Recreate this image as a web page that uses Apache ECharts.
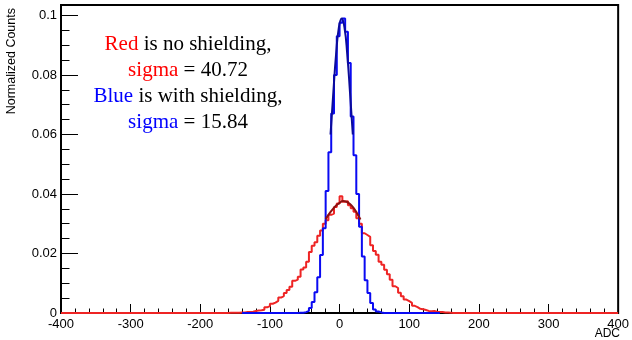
<!DOCTYPE html>
<html>
<head>
<meta charset="utf-8">
<script src="https://cdn.jsdelivr.net/npm/echarts@6/dist/echarts.min.js"></script>
<style>
  html, body { margin: 0; padding: 0; background: #fff; }
  #chart { width: 632px; height: 340px; }
</style>
</head>
<body>
<div id="chart"></div>
<script>
// Histogram binning (ADC units)
const binWidth = 4;
const xRange = [-400, 400];

// Without shielding: normalized counts per 4-ADC bin, first bin starts at redStart
const redStart = -160;
const redCounts = [
  0.0001, 0.0001, 0.0001, 0.0001, 0.0002, 0.0002, 0.0003, 0.0003, 0.0004, 0.0007,
  0.0008, 0.0009, 0.0011, 0.0019, 0.0023, 0.0031, 0.0035, 0.0041, 0.0052, 0.0057,
  0.0067, 0.0077, 0.0088, 0.0108, 0.0112, 0.0122, 0.0146, 0.0153, 0.0172, 0.0205,
  0.0226, 0.0238, 0.0260, 0.0277, 0.0300, 0.0312, 0.0330, 0.0334, 0.0356, 0.0368,
  0.0392, 0.0374, 0.0376, 0.0362, 0.0352, 0.0340, 0.0318, 0.0300, 0.0268, 0.0262,
  0.0256, 0.0228, 0.0208, 0.0196, 0.0172, 0.0162, 0.0145, 0.0130, 0.0112, 0.0090,
  0.0084, 0.0068, 0.0056, 0.0045, 0.0040, 0.0034, 0.0024, 0.0020, 0.0014, 0.0013,
  0.0010, 0.0007, 0.0006, 0.0007, 0.0004, 0.0003, 0.0003, 0.0002, 0.0002, 0.0001
];

// With shielding: normalized counts per 4-ADC bin
const blueStart = -60;
const blueCounts = [
  0.0001, 0.0001, 0.0003, 0.0007, 0.0017, 0.0037, 0.0070, 0.0120, 0.0195, 0.0285,
  0.0410, 0.0540, 0.0670, 0.0800, 0.0930, 0.0975, 0.0990, 0.0945, 0.0840, 0.0660,
  0.0530, 0.0400, 0.0290, 0.0190, 0.0110, 0.0067, 0.0034, 0.0012, 0.0005, 0.0002
];
const blueRange = [-140, 144];

// Gaussian fit curves (sampled)
const redFitX = [-20, -15, -10, -5, 0, 5, 10, 15, 20, 25, 30];
const redFitY = [0.0315, 0.0333, 0.0348, 0.0361, 0.0370, 0.0376, 0.0374, 0.0366, 0.0353, 0.0335, 0.0314];
const blueFitX = [-13, -9, -5, -1, 3, 7, 11, 15, 19];
const blueFitY = [0.060, 0.074, 0.087, 0.096, 0.099, 0.096, 0.087, 0.074, 0.060];

// Axis ticks
const yMax = 0.1035;
const yTickValues = [0, 0.02, 0.04, 0.06, 0.08, 0.1];
const yTickLabels = ['0', '0.02', '0.04', '0.06', '0.08', '0.1'];

function histLine(start, counts, from, to) {
  const pts = [];
  for (let e = from; e < to; e += binWidth) {
    const i = Math.round((e - start) / binWidth);
    const v = (i >= 0 && i < counts.length) ? counts[i] : 0;
    pts.push([e, v]);
  }
  pts.push([to, pts[pts.length - 1][1]]);
  return pts;
}

function zip(xs, ys) { return xs.map((x, i) => [x, ys[i]]); }

// three minor ticks between consecutive major ticks
const yMinorValues = [];
for (let i = 0; i + 1 < yTickValues.length; i++) {
  const a = yTickValues[i], b = yTickValues[i + 1];
  for (let k = 1; k < 4; k++) yMinorValues.push(a + (b - a) * k / 4);
}

const sansFont = 'Liberation Sans, Arial, Helvetica, sans-serif';
const serifFont = 'Liberation Serif, Times New Roman, serif';

const chart = echarts.init(document.getElementById('chart'), null, { renderer: 'canvas' });

chart.setOption({
  animation: false,
  backgroundColor: '#fff',
  grid: {
    left: 61, right: 11, top: 5, bottom: 27,
    show: true, borderColor: '#000', borderWidth: 2, backgroundColor: 'transparent'
  },
  xAxis: {
    type: 'value',
    min: xRange[0], max: xRange[1], interval: 100,
    axisLine: { show: true, onZero: false, lineStyle: { color: '#000', width: 2 } },
    axisTick: { show: true, inside: true, length: 9, lineStyle: { color: '#000', width: 1 } },
    minorTick: { show: true, splitNumber: 5, length: 4.5, lineStyle: { color: '#000', width: 1 } },
    axisLabel: { color: '#000', fontFamily: sansFont, fontSize: 13, margin: 5 },
    splitLine: { show: false },
    minorSplitLine: { show: false }
  },
  yAxis: [
    {
      type: 'value',
      min: 0, max: yMax,
      axisLine: { show: true, onZero: false, lineStyle: { color: '#000', width: 2 } },
      axisTick: { show: true, inside: true, length: 17, customValues: yTickValues,
                  lineStyle: { color: '#000', width: 1 } },
      axisLabel: {
        color: '#000', fontFamily: sansFont, fontSize: 13, margin: 4,
        customValues: yTickValues,
        formatter: v => {
          const i = yTickValues.findIndex(t => Math.abs(t - v) < 1e-9);
          return i >= 0 ? yTickLabels[i] : '';
        }
      },
      splitLine: { show: false }
    },
    {
      type: 'value',
      min: 0, max: yMax,
      position: 'left',
      axisLine: { show: false, onZero: false },
      axisTick: { show: true, inside: true, length: 8.5, customValues: yMinorValues,
                  lineStyle: { color: '#000', width: 1 } },
      axisLabel: { show: false },
      splitLine: { show: false }
    }
  ],
  series: [
    {
      name: 'no shielding', type: 'line', step: 'end', symbol: 'none',
      data: histLine(redStart, redCounts, xRange[0], xRange[1]),
      lineStyle: { color: '#ee2424', width: 2 }, z: 3
    },
    {
      name: 'with shielding', type: 'line', step: 'end', symbol: 'none',
      data: histLine(blueStart, blueCounts, blueRange[0], blueRange[1]),
      lineStyle: { color: '#0a0af2', width: 2 }, z: 4
    },
    {
      name: 'fit no shielding', type: 'line', smooth: true, symbol: 'none',
      data: zip(redFitX, redFitY),
      lineStyle: { color: '#8c1010', width: 2 }, z: 5
    },
    {
      name: 'fit with shielding', type: 'line', smooth: true, symbol: 'none',
      data: zip(blueFitX, blueFitY),
      lineStyle: { color: '#0b0b9a', width: 2 }, z: 6
    }
  ],
  graphic: [
    {
      type: 'text', x: 12, y: 8, rotation: Math.PI / 2,
      style: { text: 'Normalized Counts', fill: '#000', font: '12.5px ' + sansFont,
               align: 'right', verticalAlign: 'middle' }
    },
    {
      type: 'text', x: 620, y: 334,
      style: { text: 'ADC', fill: '#000', font: '12px ' + sansFont,
               align: 'right', verticalAlign: 'middle' }
    },
    {
      type: 'text', x: 188, y: 83,
      style: {
        text: '{r|Red} {k|is no shielding,}\n{r|sigma} {k|= 40.72}\n{b|Blue} {k|is with shielding,}\n{b|sigma} {k|= 15.84}',
        align: 'center', verticalAlign: 'middle',
        fontFamily: serifFont, fontSize: 21, lineHeight: 26, fill: '#000',
        rich: {
          r: { fill: '#ff0000', fontFamily: serifFont, fontSize: 21, lineHeight: 26 },
          b: { fill: '#0000ff', fontFamily: serifFont, fontSize: 21, lineHeight: 26 },
          k: { fill: '#000', fontFamily: serifFont, fontSize: 21, lineHeight: 26 }
        }
      }
    }
  ]
});
</script>
</body>
</html>
